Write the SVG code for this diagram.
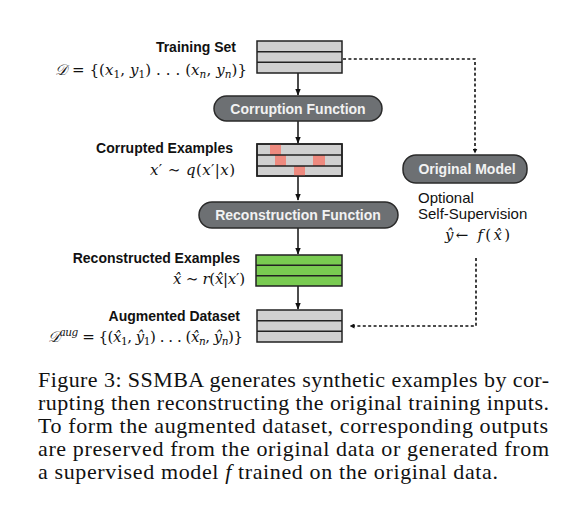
<svg xmlns="http://www.w3.org/2000/svg" width="573" height="518" viewBox="0 0 573 518">
<defs>
<style>
.lbl{font-family:"Liberation Sans",Arial,sans-serif;font-size:14px;font-weight:bold;fill:#111;text-anchor:end}
.opt{font-family:"Liberation Sans",Arial,sans-serif;font-size:15px;fill:#111}
.btxt{font-family:"Liberation Sans",Arial,sans-serif;font-size:14px;font-weight:bold;fill:#f2f2f2;text-anchor:middle}
.box{fill:#6d7073;stroke:#2a2a2a;stroke-width:1.5}
.stk{fill:#d0d0d0;stroke:#222;stroke-width:1.5}
.grn{fill:#79cb51;stroke:#222;stroke-width:1.5}
.div{stroke:#222;stroke-width:1.5;fill:none}
.red{fill:#ee8a7f}
.math{font-family:"DejaVu Serif","Liberation Serif",serif;font-size:15px;fill:#111;text-anchor:end}
.i{font-style:italic}
.sub{font-size:10.5px}
.cap{font-family:"Liberation Serif","Times New Roman",serif;font-size:22px;fill:#111}
.ar{stroke:#111;stroke-width:1.5;fill:none}
.da{stroke:#111;stroke-width:1.6;fill:none;stroke-dasharray:3 2.4}
</style>
<marker id="ah" viewBox="0 0 10 10" refX="9" refY="5" markerWidth="5" markerHeight="5" orient="auto" markerUnits="userSpaceOnUse">
<path d="M0,0 L10,5 L0,10 z" fill="#111"/>
</marker>
<marker id="ah2" viewBox="0 0 10 10" refX="9" refY="5" markerWidth="7" markerHeight="7" orient="auto" markerUnits="userSpaceOnUse">
<path d="M0,1 L10,5 L0,9 z" fill="#111"/>
</marker>
</defs>
<rect width="573" height="518" fill="#fff"/>

<g id="connectors">
<path class="ar" d="M298 73 V95" marker-end="url(#ah2)"/>
<path class="ar" d="M298 121 V143" marker-end="url(#ah2)"/>
<path class="ar" d="M298 176 V200" marker-end="url(#ah2)"/>
<path class="ar" d="M298 228 V254" marker-end="url(#ah2)"/>
<path class="ar" d="M298 286 V309" marker-end="url(#ah2)"/>
<path class="da" d="M343 59 H475 V153" marker-end="url(#ah)"/>
<path class="da" d="M476 258 V326 H350" marker-end="url(#ah)"/>
</g>

<g id="training-set">
<rect class="stk" x="257" y="41" width="85" height="32"/>
<path class="div" d="M257 51.7 H342 M257 62.3 H342"/>
<text class="lbl" x="236" y="52">Training Set</text>
<text class="math" x="247" y="75" textLength="192" lengthAdjust="spacing"><tspan class="i">𝒟</tspan> = {(<tspan class="i">x</tspan><tspan class="sub" dy="3">1</tspan><tspan dy="-3">, </tspan><tspan class="i">y</tspan><tspan class="sub" dy="3">1</tspan><tspan dy="-3">) . . . (</tspan><tspan class="i">x</tspan><tspan class="sub i" dy="3">n</tspan><tspan dy="-3">, </tspan><tspan class="i">y</tspan><tspan class="sub i" dy="3">n</tspan><tspan dy="-3">)}</tspan></text>
</g>

<g id="corruption-function">
<rect class="box" x="214" y="96" width="168" height="25" rx="12.5"/>
<text class="btxt" x="298" y="113.5">Corruption Function</text>
</g>

<g id="corrupted-examples">
<rect class="stk" x="257" y="144" width="85" height="32"/>
<rect class="red" x="270" y="144.5" width="11" height="10.5"/>
<rect class="red" x="275" y="155" width="11" height="11"/>
<rect class="red" x="313" y="155" width="12" height="11"/>
<rect class="red" x="294" y="166" width="11" height="10"/>
<rect x="257" y="144" width="85" height="32" fill="none" stroke="#222" stroke-width="1.5"/>
<path class="div" d="M257 155 H342 M257 166 H342"/>
<text class="lbl" x="233" y="153">Corrupted Examples</text>
<text class="math" x="235" y="175" textLength="85" lengthAdjust="spacing"><tspan class="i">x</tspan>′ ∼ <tspan class="i">q</tspan>(<tspan class="i">x</tspan>′|<tspan class="i">x</tspan>)</text>
</g>

<g id="reconstruction-function">
<rect class="box" x="199" y="202" width="199" height="26" rx="13"/>
<text class="btxt" x="298" y="220">Reconstruction Function</text>
</g>

<g id="reconstructed-examples">
<rect class="grn" x="256" y="255" width="86" height="31"/>
<path class="div" d="M256 265.3 H342 M256 275.7 H342"/>
<text class="lbl" x="240" y="263">Reconstructed Examples</text>
<text class="math" x="245" y="284" textLength="72" lengthAdjust="spacing"><tspan class="i">x̂</tspan> ∼ <tspan class="i">r</tspan>(<tspan class="i">x̂</tspan>|<tspan class="i">x</tspan>′)</text>
</g>

<g id="augmented-dataset">
<rect class="stk" x="257" y="310" width="85" height="32"/>
<path class="div" d="M257 320.7 H342 M257 331.3 H342"/>
<text class="lbl" x="240" y="321">Augmented Dataset</text>
<text class="math" x="243" y="342" textLength="195" lengthAdjust="spacing"><tspan class="i">𝒟</tspan><tspan class="sub i" dy="-6">aug</tspan><tspan dy="6"> = {(</tspan><tspan class="i">x̂</tspan><tspan class="sub" dy="3">1</tspan><tspan dy="-3">, </tspan><tspan class="i">ŷ</tspan><tspan class="sub" dy="3">1</tspan><tspan dy="-3">) . . . (</tspan><tspan class="i">x̂</tspan><tspan class="sub i" dy="3">n</tspan><tspan dy="-3">, </tspan><tspan class="i">ŷ</tspan><tspan class="sub i" dy="3">n</tspan><tspan dy="-3">)}</tspan></text>
</g>

<g id="original-model">
<rect class="box" x="403" y="155" width="124" height="28" rx="13"/>
<text class="btxt" x="467" y="174">Original Model</text>
<text class="opt" x="418" y="203">Optional</text>
<text class="opt" x="418" y="219">Self-Supervision</text>
<text class="math" x="510" y="240" textLength="65" lengthAdjust="spacing"><tspan class="i">ŷ</tspan>← <tspan class="i">f</tspan>(<tspan class="i">x̂</tspan>)</text>
</g>

<g id="caption">
<text class="cap" x="38" y="387" textLength="511" lengthAdjust="spacing">Figure 3: SSMBA generates synthetic examples by cor-</text>
<text class="cap" x="38" y="410" textLength="511" lengthAdjust="spacing">rupting then reconstructing the original training inputs.</text>
<text class="cap" x="38" y="433" textLength="510" lengthAdjust="spacing">To form the augmented dataset, corresponding outputs</text>
<text class="cap" x="38" y="456" textLength="511" lengthAdjust="spacing">are preserved from the original data or generated from</text>
<text class="cap" x="38" y="479" textLength="460" lengthAdjust="spacing">a supervised model <tspan class="i">f</tspan> trained on the original data.</text>
</g>
</svg>
